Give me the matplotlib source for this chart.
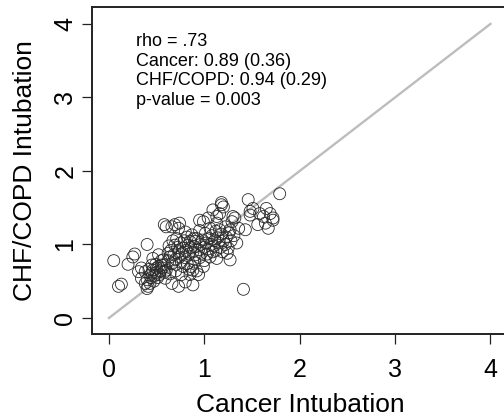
import matplotlib
matplotlib.use('Agg')
import matplotlib.pyplot as plt

plt.rcParams['font.family'] = ['Liberation Sans', 'DejaVu Sans']

# Cancer vs CHF/COPD intubation rates
cancer = [
    0.05, 0.10, 0.13, 0.20, 0.25, 0.27, 0.40, 0.34, 0.31, 0.38, 0.38, 0.41, 0.40, 0.40, 0.43, 0.34,
    0.46, 0.52, 0.57, 0.55, 0.50, 0.45, 0.53, 0.60, 0.66, 0.64, 0.69, 0.73, 0.78, 0.83, 0.90, 0.87,
    0.80, 0.73, 0.60, 0.66, 0.73, 0.80, 0.88, 0.59, 0.76, 0.85, 1.41, 0.94, 0.88, 0.99, 0.78, 0.74,
    1.27, 1.13, 1.06, 1.43, 1.46, 1.48, 1.51, 1.58, 1.65, 1.69, 1.72, 1.64, 1.56, 1.67, 1.79, 1.18,
    1.16, 1.09, 1.04, 0.99, 0.95, 1.29, 1.27, 1.22, 1.30, 1.48, 1.62, 1.72, 1.32, 1.18, 0.74, 0.69,
    1.13, 0.58, 0.66, 1.20,
    0.44, 0.46, 0.48, 0.50, 0.52, 0.54, 0.56, 0.47, 0.43, 0.49, 0.51, 0.55, 0.58, 0.42, 0.45,
    0.62, 0.65, 0.68, 0.70, 0.72, 0.75, 0.77, 0.79, 0.81, 0.82, 0.84, 0.86, 0.67, 0.63, 0.71, 0.76,
    0.80, 0.85, 0.62, 0.70,
    0.88, 0.90, 0.92, 0.94, 0.96, 0.98, 1.00, 1.02, 1.04, 1.05, 1.07, 1.08, 1.10, 1.11, 1.12, 1.14,
    1.15, 1.17, 1.18, 1.20, 1.22, 1.23, 1.25, 1.26, 1.28, 0.91, 0.97, 1.03, 1.09, 1.16, 1.01, 0.95,
    1.06, 1.12, 0.89, 1.19, 1.24, 1.31, 1.34, 1.36, 1.13,
    0.82, 0.90, 0.95, 0.86, 0.92, 1.00, 0.84, 0.70, 0.64, 0.58,
]
chf_copd = [
    0.78, 0.43, 0.46, 0.73, 0.83, 0.87, 1.00, 0.68, 0.63, 0.63, 0.47, 0.43, 0.52, 0.40, 0.47, 0.54,
    0.81, 0.86, 0.79, 0.72, 0.68, 0.61, 0.59, 0.65, 0.74, 0.83, 0.99, 0.90, 0.95, 0.99, 1.04, 1.13,
    1.17, 1.22, 1.24, 0.47, 0.43, 0.49, 0.45, 0.54, 0.59, 0.59, 0.39, 0.59, 0.65, 0.70, 0.70, 0.83,
    0.79, 0.81, 0.83, 1.20, 1.61, 1.45, 1.49, 1.42, 1.49, 1.42, 1.33, 1.29, 1.27, 1.22, 1.69, 1.54,
    1.42, 1.47, 1.36, 1.31, 1.33, 1.31, 1.20, 1.24, 1.38, 1.40, 1.38, 1.36, 1.36, 1.57, 1.29, 1.27,
    1.29, 1.27, 1.24, 1.51,
    0.55, 0.65, 0.58, 0.62, 0.70, 0.64, 0.68, 0.50, 0.58, 0.73, 0.55, 0.78, 0.72, 0.66, 0.72,
    0.78, 0.92, 0.86, 0.80, 0.96, 1.02, 0.88, 1.05, 0.92, 1.10, 0.87, 0.96, 1.05, 0.98, 1.08, 0.76,
    0.82, 1.04, 0.88, 0.73,
    0.90, 0.97, 1.08, 0.93, 1.00, 1.06, 0.96, 1.02, 0.94, 1.08, 1.00, 1.12, 0.98, 1.05, 0.92, 1.09,
    1.02, 0.96, 1.14, 1.05, 1.00, 1.10, 0.95, 1.16, 1.05, 0.86, 0.88, 0.87, 0.90, 1.20, 1.15, 1.19,
    1.22, 1.18, 1.08, 0.90, 0.88, 1.12, 1.02, 1.22, 1.38,
    0.74, 0.76, 0.82, 0.70, 0.64, 0.78, 0.66, 0.64, 0.60, 0.62,
]

identity = [0, 4]
ticks = [0, 1, 2, 3, 4]
stats_text = 'rho = .73\nCancer: 0.89 (0.36)\nCHF/COPD: 0.94 (0.29)\np-value = 0.003'

fig = plt.figure(figsize=(5.04, 4.19), dpi=100)
ax = fig.add_axes([92 / 504, 85 / 419, 416 / 504, 327 / 419])

ax.plot(identity, identity, color='#bdbdbd', linewidth=1.7, zorder=1)
ax.scatter(cancer, chf_copd, s=74, facecolors='none', edgecolors='#2a2a2a',
           linewidths=0.6, zorder=2)

ax.set_xlim(-0.178, 4.184)
ax.set_ylim(-0.218, 4.23)
ax.set_xticks(ticks)
ax.set_yticks(ticks)
ax.set_xticklabels([str(t) for t in ticks], fontsize=18)
ax.set_yticklabels([str(t) for t in ticks], fontsize=18, rotation=90, va='center')
ax.tick_params(direction='out', length=7.5, width=0.9, color='#222222')
ax.tick_params(axis='x', pad=10)
ax.tick_params(axis='y', pad=3)

for side in ax.spines.values():
    side.set_linewidth(1.4)
    side.set_color('#222222')

ax.set_xlabel('Cancer Intubation', fontsize=19, labelpad=8)
ax.set_ylabel('CHF/COPD Intubation', fontsize=19, labelpad=12)

ax.text(0.28, 3.88, stats_text, fontsize=13, va='top', ha='left', linespacing=1.22)

fig.savefig('out.png', dpi=100)
